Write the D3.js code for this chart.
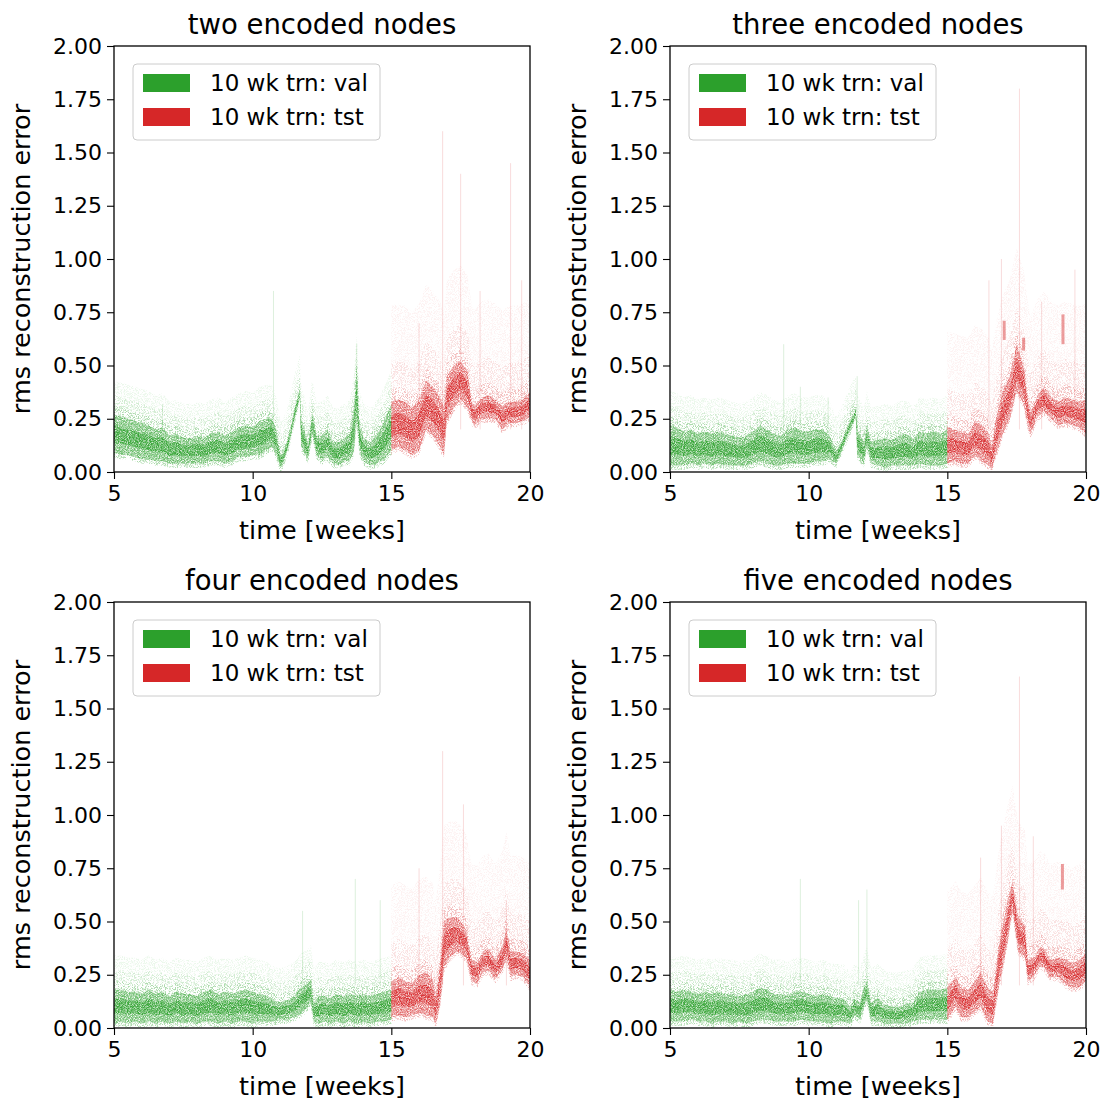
<!DOCTYPE html>
<html><head><meta charset="utf-8">
<script src="https://cdn.jsdelivr.net/npm/d3@7"></script>
<style>
body{margin:0;background:#fff;}
svg{display:block;font-family:"DejaVu Sans",sans-serif;}
</style></head><body>
<div id="chart"></div>
<script>
// ---------- DATA ----------
const panelTitles = ["two encoded nodes","three encoded nodes","four encoded nodes","five encoded nodes"];
const seriesNames = ["10 wk trn: val","10 wk trn: tst"];
const xTicks = [5,10,15,20];
const yTicks = [0,0.25,0.5,0.75,1.0,1.25,1.5,1.75,2.0];

// panel 1: two encoded nodes
const p1ValT  = [5.0,5.25,5.5,5.75,6.0,6.25,6.5,6.75,7.0,7.25,7.5,7.75,8.0,8.25,8.5,8.75,9.0,9.25,9.5,9.75,10.0,10.25,10.5,10.7,10.85,11.0,11.1,11.3,11.5,11.7,11.75,11.9,12.0,12.15,12.3,12.5,12.7,12.9,13.1,13.3,13.5,13.65,13.75,13.85,14.0,14.25,14.5,14.75,15.0];
const p1ValLo = [0.09,0.08,0.08,0.07,0.06,0.06,0.05,0.05,0.04,0.04,0.04,0.04,0.04,0.04,0.05,0.05,0.04,0.05,0.07,0.07,0.08,0.08,0.10,0.12,0.08,0.02,0.04,0.12,0.24,0.35,0.12,0.08,0.06,0.18,0.08,0.05,0.07,0.04,0.03,0.05,0.05,0.10,0.25,0.10,0.05,0.03,0.04,0.06,0.10];
const p1ValHi = [0.27,0.26,0.25,0.24,0.23,0.22,0.20,0.21,0.17,0.18,0.16,0.16,0.17,0.16,0.18,0.19,0.17,0.19,0.21,0.22,0.21,0.24,0.25,0.25,0.20,0.08,0.09,0.17,0.29,0.39,0.25,0.18,0.13,0.28,0.17,0.17,0.20,0.14,0.14,0.16,0.18,0.30,0.50,0.22,0.16,0.14,0.18,0.24,0.32];
const p1TstT  = [15.0,15.25,15.5,15.75,16.0,16.25,16.5,16.75,16.9,17.0,17.25,17.5,17.75,17.9,18.0,18.25,18.5,18.75,19.0,19.25,19.5,19.75,20.0];
const p1TstLo = [0.10,0.12,0.10,0.08,0.10,0.20,0.17,0.12,0.08,0.24,0.30,0.34,0.30,0.24,0.22,0.25,0.25,0.25,0.20,0.23,0.23,0.24,0.26];
const p1TstHi = [0.33,0.34,0.33,0.30,0.34,0.43,0.40,0.35,0.30,0.45,0.50,0.52,0.47,0.33,0.31,0.35,0.36,0.34,0.31,0.33,0.33,0.34,0.38];
const p1SpikeT   = [6.75,10.75,13.75,16.0,16.85,17.5,18.2,19.3,19.7];
const p1SpikeTop = [0.32,0.85,0.60,0.70,1.60,1.40,0.85,1.45,0.90];
const p1BlobT = [], p1BlobLo = [], p1BlobHi = [];

// panel 2: three encoded nodes
const p2ValT  = [5.0,5.25,5.5,5.75,6.0,6.25,6.5,6.75,7.0,7.25,7.5,7.75,8.0,8.25,8.5,8.75,9.0,9.25,9.5,9.75,10.0,10.25,10.5,10.75,11.0,11.2,11.45,11.7,11.75,12.0,12.1,12.25,12.5,12.75,13.0,13.25,13.5,13.75,14.0,14.25,14.5,14.75,15.0];
const p2ValLo = [0.03,0.03,0.03,0.04,0.03,0.04,0.03,0.04,0.03,0.03,0.03,0.03,0.04,0.05,0.04,0.03,0.03,0.04,0.04,0.04,0.04,0.05,0.05,0.06,0.04,0.10,0.18,0.26,0.08,0.04,0.12,0.04,0.03,0.02,0.03,0.03,0.03,0.03,0.04,0.03,0.03,0.03,0.04];
const p2ValHi = [0.22,0.21,0.19,0.20,0.18,0.19,0.18,0.19,0.18,0.17,0.16,0.17,0.19,0.22,0.20,0.18,0.17,0.20,0.21,0.19,0.19,0.20,0.20,0.17,0.10,0.15,0.23,0.30,0.20,0.14,0.22,0.14,0.15,0.16,0.15,0.17,0.18,0.15,0.19,0.18,0.19,0.18,0.20];
const p2TstT  = [15.0,15.25,15.5,15.75,16.0,16.25,16.5,16.6,16.75,17.0,17.25,17.5,17.75,17.9,18.0,18.25,18.5,18.75,19.0,19.25,19.5,19.75,20.0];
const p2TstLo = [0.04,0.05,0.04,0.04,0.08,0.05,0.03,0.01,0.08,0.18,0.25,0.38,0.32,0.22,0.18,0.26,0.28,0.25,0.22,0.23,0.22,0.21,0.18];
const p2TstHi = [0.21,0.20,0.19,0.18,0.24,0.22,0.18,0.12,0.25,0.38,0.45,0.60,0.50,0.35,0.28,0.36,0.40,0.35,0.33,0.35,0.34,0.33,0.34];
const p2SpikeT   = [9.1,9.7,10.7,11.75,16.5,16.95,17.6,18.4,19.6];
const p2SpikeTop = [0.60,0.40,0.35,0.45,0.90,1.00,1.80,0.80,0.95];
const p2BlobT = [17.05,17.75,19.17], p2BlobLo = [0.62,0.57,0.60], p2BlobHi = [0.71,0.63,0.74];

// panel 3: four encoded nodes
const p3ValT  = [5.0,5.25,5.5,5.75,6.0,6.25,6.5,6.75,7.0,7.25,7.5,7.75,8.0,8.25,8.5,8.75,9.0,9.25,9.5,9.75,10.0,10.25,10.5,10.75,11.0,11.25,11.5,11.75,12.0,12.1,12.2,12.4,12.6,12.8,13.0,13.25,13.5,13.75,14.0,14.25,14.5,14.75,15.0];
const p3ValLo = [0.02,0.03,0.02,0.03,0.02,0.03,0.02,0.03,0.02,0.03,0.02,0.03,0.02,0.03,0.03,0.02,0.03,0.02,0.03,0.03,0.02,0.03,0.03,0.03,0.04,0.04,0.05,0.07,0.10,0.12,0.03,0.02,0.03,0.02,0.03,0.02,0.03,0.02,0.03,0.02,0.03,0.03,0.04];
const p3ValHi = [0.18,0.18,0.17,0.17,0.16,0.18,0.16,0.17,0.15,0.17,0.16,0.16,0.15,0.17,0.18,0.16,0.17,0.16,0.17,0.18,0.17,0.16,0.15,0.13,0.12,0.13,0.15,0.19,0.21,0.23,0.12,0.15,0.15,0.14,0.16,0.15,0.16,0.15,0.16,0.15,0.16,0.17,0.18];
const p3TstT  = [15.0,15.25,15.5,15.75,16.0,16.25,16.5,16.6,16.75,16.9,17.1,17.35,17.5,17.7,17.9,18.1,18.3,18.5,18.75,19.0,19.15,19.3,19.5,19.75,20.0];
const p3TstLo = [0.05,0.06,0.05,0.06,0.07,0.06,0.05,0.02,0.10,0.28,0.33,0.36,0.35,0.33,0.22,0.21,0.26,0.27,0.23,0.27,0.33,0.24,0.25,0.24,0.19];
const p3TstHi = [0.22,0.24,0.22,0.21,0.25,0.26,0.23,0.15,0.30,0.50,0.52,0.52,0.50,0.46,0.32,0.31,0.36,0.37,0.32,0.38,0.47,0.36,0.36,0.35,0.32];
const p3SpikeT   = [11.8,13.7,14.6,16.0,16.85,17.6,19.15];
const p3SpikeTop = [0.55,0.70,0.60,0.75,1.30,1.05,0.60];
const p3BlobT = [], p3BlobLo = [], p3BlobHi = [];

// panel 4: five encoded nodes
const p4ValT  = [5.0,5.25,5.5,5.75,6.0,6.25,6.5,6.75,7.0,7.25,7.5,7.75,8.0,8.25,8.5,8.75,9.0,9.25,9.5,9.75,10.0,10.25,10.5,10.75,11.0,11.25,11.5,11.65,11.85,12.0,12.1,12.25,12.5,12.75,13.0,13.25,13.5,13.75,14.0,14.25,14.5,14.75,15.0];
const p4ValLo = [0.03,0.03,0.03,0.04,0.03,0.03,0.02,0.03,0.03,0.02,0.03,0.02,0.03,0.04,0.04,0.03,0.03,0.03,0.03,0.04,0.03,0.03,0.03,0.02,0.03,0.03,0.02,0.06,0.04,0.10,0.13,0.03,0.03,0.02,0.02,0.02,0.02,0.03,0.04,0.04,0.04,0.04,0.04];
const p4ValHi = [0.18,0.17,0.18,0.17,0.16,0.17,0.16,0.17,0.16,0.16,0.15,0.16,0.17,0.19,0.18,0.16,0.16,0.15,0.17,0.17,0.16,0.15,0.16,0.15,0.14,0.14,0.10,0.14,0.12,0.19,0.22,0.12,0.14,0.11,0.10,0.10,0.11,0.12,0.17,0.18,0.18,0.18,0.19];
const p4TstT  = [15.0,15.3,15.5,15.75,16.0,16.2,16.45,16.65,16.85,17.1,17.35,17.55,17.8,17.9,18.1,18.35,18.5,18.7,19.0,19.3,19.5,19.75,20.0];
const p4TstLo = [0.04,0.10,0.05,0.05,0.08,0.10,0.03,0.02,0.19,0.35,0.55,0.36,0.33,0.22,0.24,0.29,0.28,0.24,0.24,0.20,0.19,0.19,0.22];
const p4TstHi = [0.19,0.24,0.19,0.18,0.22,0.26,0.19,0.17,0.38,0.55,0.69,0.52,0.48,0.32,0.33,0.38,0.37,0.32,0.33,0.32,0.30,0.32,0.35];
const p4SpikeT   = [9.7,11.8,12.1,16.2,16.95,17.6,18.1];
const p4SpikeTop = [0.70,0.60,0.65,0.80,0.95,1.65,0.90];
const p4BlobT = [19.15], p4BlobLo = [0.65], p4BlobHi = [0.77];

// ---------- build table ----------
const zip = (t, lo, hi) => t.map((d,i) => ({t:d, lo:lo[i], hi:hi[i]}));
const panels = [
  {title:panelTitles[0], val:zip(p1ValT,p1ValLo,p1ValHi), tst:zip(p1TstT,p1TstLo,p1TstHi), spikes:p1SpikeT.map((t,i)=>({t,top:p1SpikeTop[i]})), blobs:zip(p1BlobT,p1BlobLo,p1BlobHi)},
  {title:panelTitles[1], val:zip(p2ValT,p2ValLo,p2ValHi), tst:zip(p2TstT,p2TstLo,p2TstHi), spikes:p2SpikeT.map((t,i)=>({t,top:p2SpikeTop[i]})), blobs:zip(p2BlobT,p2BlobLo,p2BlobHi)},
  {title:panelTitles[2], val:zip(p3ValT,p3ValLo,p3ValHi), tst:zip(p3TstT,p3TstLo,p3TstHi), spikes:p3SpikeT.map((t,i)=>({t,top:p3SpikeTop[i]})), blobs:zip(p3BlobT,p3BlobLo,p3BlobHi)},
  {title:panelTitles[3], val:zip(p4ValT,p4ValLo,p4ValHi), tst:zip(p4TstT,p4TstLo,p4TstHi), spikes:p4SpikeT.map((t,i)=>({t,top:p4SpikeTop[i]})), blobs:zip(p4BlobT,p4BlobLo,p4BlobHi)}
];

// ---------- layout ----------
const W = 1107, H = 1104;
const GREEN = "#2ca02c", RED = "#d62728";
const origins = [[114,46],[670,46],[114,602],[670,602]];
const pw = 416, ph = 426;

const svg = d3.select("#chart").append("svg").attr("width",W).attr("height",H);
const defs = svg.append("defs");
// speckle texture filters to mimic dense scatter of tiny points
function speckle(id, seed, freq, slope, offset){
  const f = defs.append("filter").attr("id",id).attr("x","0").attr("y","0").attr("width","1").attr("height","1");
  f.append("feTurbulence").attr("type","fractalNoise").attr("baseFrequency",freq).attr("numOctaves","1").attr("seed",seed).attr("result","noise");
  f.append("feColorMatrix").attr("in","noise").attr("type","matrix")
    .attr("values",`0 0 0 0 0  0 0 0 0 0  0 0 0 0 0  0 0 0 ${slope} ${offset}`).attr("result","mask");
  f.append("feComposite").attr("in","SourceGraphic").attr("in2","mask").attr("operator","in");
}
speckle("speckle", 3, "1.1", -2.6, 1.9);
speckle("sparse", 7, "1.3", -6, 3.2);

panels.forEach((p, k) => {
  const [ox, oy] = origins[k];
  const g = svg.append("g").attr("transform",`translate(${ox},${oy})`);
  const x = d3.scaleLinear().domain([5,20]).range([0,pw]);
  const y = d3.scaleLinear().domain([0,2]).range([ph,0]);
  const clipId = "clip"+k;
  defs.append("clipPath").attr("id",clipId).append("rect").attr("width",pw).attr("height",ph);
  const plot = g.append("g").attr("clip-path",`url(#${clipId})`);

  const band = d3.area().x(d=>x(d.t)).y0(d=>y(d.lo)).y1(d=>y(d.hi));
  const inner = d3.area().x(d=>x(d.t)).y0(d=>y(d.lo+0.28*(d.hi-d.lo))).y1(d=>y(d.hi-0.28*(d.hi-d.lo)));
  const halo = ext => d3.area().x(d=>x(d.t)).y0(d=>y(Math.max(0,d.lo-0.02))).y1(d=>y(d.hi+ext));

  [[p.val,GREEN,[0.04,0.09,0.16],[0.22,0.14,0.08]],[p.tst,RED,[0.06,0.18,0.45],[0.2,0.1,0.05]]].forEach(([data,col,exts,ops]) => {
    const sp = plot.append("g").attr("filter","url(#sparse)");
    exts.forEach((e,i) => sp.append("path").datum(data).attr("d",halo(e)).attr("fill",col).attr("opacity",ops[i]));
    const layer = plot.append("g").attr("filter","url(#speckle)");
    layer.append("path").datum(data).attr("d",band).attr("fill",col).attr("opacity",0.6);
    layer.append("path").datum(data).attr("d",inner).attr("fill",col).attr("opacity",0.75);
    plot.append("path").datum(data).attr("d",inner).attr("fill",col).attr("opacity",0.18);
  });
  // faint vertical streaks
  plot.selectAll(".spike").data(p.spikes).join("line")
    .attr("x1",d=>x(d.t)).attr("x2",d=>x(d.t))
    .attr("y1",y(0.2)).attr("y2",d=>y(d.top))
    .attr("stroke",d=>d.t<15?GREEN:RED).attr("stroke-width",1).attr("opacity",0.16);
  // isolated blobs
  plot.selectAll(".blob").data(p.blobs).join("line")
    .attr("x1",d=>x(d.t)).attr("x2",d=>x(d.t))
    .attr("y1",d=>y(d.lo)).attr("y2",d=>y(d.hi))
    .attr("stroke",RED).attr("stroke-width",3).attr("opacity",0.45);

  // axes
  const xAxis = d3.axisBottom(x).tickValues(xTicks).tickSize(7).tickPadding(6).tickFormat(d3.format("d"));
  const xMinor = d3.axisBottom(x).tickValues(d3.range(5,21,1)).tickSize(4).tickFormat("");
  const yAxis = d3.axisLeft(y).tickValues(yTicks).tickSize(7).tickPadding(5).tickFormat(d3.format(".2f"));
  const yMinor = d3.axisLeft(y).tickValues(d3.range(0,2.001,0.05)).tickSize(4).tickFormat("");
  const gx = g.append("g").attr("transform",`translate(0,${ph})`);
  gx.call(xMinor); gx.call(xAxis);
  const gy = g.append("g");
  gy.call(yMinor); gy.call(yAxis);
  [gx,gy].forEach(a => {
    a.selectAll("path.domain").remove();
    a.selectAll("line").attr("stroke","#000").attr("stroke-width",1.1);
    a.selectAll("text").attr("font-size",22).attr("font-family","DejaVu Sans").attr("fill","#000");
  });
  // frame
  g.append("rect").attr("width",pw).attr("height",ph).attr("fill","none").attr("stroke","#000").attr("stroke-width",1.3);

  // labels
  g.append("text").attr("x",pw/2).attr("y",-12).attr("text-anchor","middle").attr("font-size",27.5).text(p.title);
  g.append("text").attr("x",pw/2).attr("y",ph+67).attr("text-anchor","middle").attr("font-size",25.5).text("time [weeks]");
  g.append("text").attr("transform",`translate(-84,${ph/2}) rotate(-90)`).attr("text-anchor","middle").attr("font-size",25.5).text("rms reconstruction error");

  // legend
  const lg = g.append("g").attr("transform","translate(19,18)");
  lg.append("rect").attr("width",247).attr("height",76).attr("rx",4).attr("fill","#fff").attr("fill-opacity",0.8).attr("stroke","#cccccc").attr("stroke-width",1);
  [GREEN,RED].forEach((c,i) => {
    lg.append("rect").attr("x",10).attr("y",10+i*34).attr("width",47).attr("height",18).attr("fill",c);
    lg.append("text").attr("x",77).attr("y",19+i*34).attr("dy","0.35em").attr("font-size",23).text(seriesNames[i]);
  });
});
</script>
</body></html>
